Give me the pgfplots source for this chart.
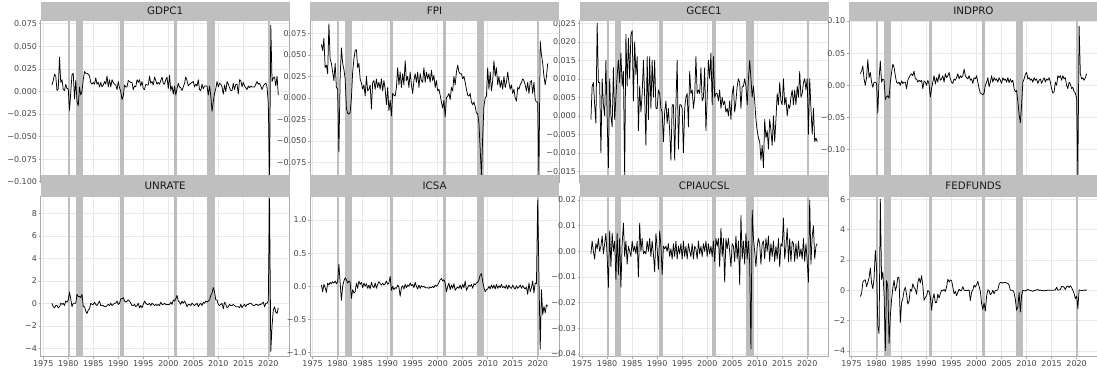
\documentclass[border=0pt]{standalone}
\usepackage{fontspec}
\setmainfont{DejaVu Sans}
\usepackage{pgfplots}
\usepackage{pgfplotstable}
\pgfplotsset{compat=1.18}

\definecolor{stripgray}{RGB}{191,191,191}
\definecolor{bandgray}{RGB}{190,190,190}
\definecolor{gridgray}{RGB}{233,233,233}
\definecolor{spinegray}{RGB}{170,170,170}
\definecolor{labelgray}{RGB}{70,70,70}
\definecolor{titlecol}{RGB}{26,26,26}

% quarterly values, 1976Q4 ... 2022Q1 (one row per year)
\pgfplotstableread[header=false,row sep=\\]{
0.007\\
0.012\\0.019\\0.017\\0.001\\
0.003\\0.038\\0.010\\0.013\\
0.002\\0.001\\0.008\\0.003\\
0.003\\-0.021\\-0.001\\0.019\\
0.020\\-0.008\\0.012\\-0.011\\
-0.016\\0.005\\-0.004\\0.000\\
0.013\\0.022\\0.020\\0.020\\
0.019\\0.017\\0.010\\0.008\\
0.010\\0.008\\0.015\\0.008\\
0.010\\0.005\\0.010\\0.005\\
0.007\\0.011\\0.008\\0.017\\
0.005\\0.013\\0.005\\0.013\\
0.010\\0.008\\0.007\\0.002\\
0.011\\0.004\\0.000\\-0.009\\
-0.005\\0.007\\0.005\\0.005\\
0.012\\0.011\\0.010\\0.010\\
0.002\\0.006\\0.005\\0.013\\
0.010\\0.013\\0.006\\0.011\\
0.003\\0.002\\0.008\\0.007\\
0.007\\0.017\\0.009\\0.011\\
0.007\\0.016\\0.012\\0.008\\
0.010\\0.008\\0.012\\0.016\\
0.009\\0.008\\0.013\\0.016\\
0.003\\0.018\\0.001\\0.006\\
-0.003\\0.006\\-0.004\\0.003\\
0.009\\0.005\\0.004\\0.001\\
0.005\\0.009\\0.016\\0.012\\
0.006\\0.008\\0.009\\0.010\\
0.011\\0.005\\0.008\\0.006\\
0.013\\0.002\\0.001\\0.008\\
0.003\\0.006\\0.006\\0.006\\
-0.004\\0.006\\-0.005\\-0.022\\
-0.011\\-0.002\\0.003\\0.011\\
0.005\\0.009\\0.008\\0.005\\
-0.003\\0.007\\0.000\\0.011\\
0.008\\0.004\\0.001\\0.001\\
0.009\\0.002\\0.008\\0.008\\
-0.003\\0.013\\0.012\\0.005\\
0.010\\0.006\\0.004\\0.002\\
0.006\\0.004\\0.006\\0.005\\
0.005\\0.005\\0.008\\0.011\\
0.008\\0.009\\0.006\\0.002\\
0.006\\0.008\\0.009\\0.005\\
-0.014\\-0.094\\0.073\\0.011\\
0.015\\0.016\\0.006\\0.017\\
-0.004\\
}\tGDPC

\pgfplotstableread[header=false,row sep=\\]{
0.062\\
0.055\\0.069\\0.035\\0.038\\
0.028\\0.086\\0.045\\0.040\\
0.030\\0.020\\0.040\\0.012\\
0.010\\-0.063\\0.025\\0.058\\
0.040\\0.033\\0.022\\-0.012\\
-0.018\\-0.019\\-0.017\\0.000\\
0.030\\0.045\\0.055\\0.056\\
0.035\\0.040\\0.022\\0.017\\
0.010\\0.015\\0.002\\0.025\\
0.008\\0.010\\0.015\\-0.013\\
0.018\\0.020\\0.010\\0.022\\
0.012\\0.018\\0.010\\0.022\\
0.008\\0.020\\0.010\\-0.008\\
0.012\\-0.015\\-0.003\\-0.021\\
0.005\\0.003\\0.002\\0.012\\
0.035\\0.015\\0.030\\0.012\\
0.028\\0.015\\0.043\\0.020\\
0.025\\0.012\\0.030\\0.015\\
0.005\\0.020\\0.028\\0.018\\
0.030\\0.012\\0.028\\0.020\\
0.018\\0.035\\0.018\\0.030\\
0.022\\0.028\\0.018\\0.032\\
0.020\\0.026\\0.012\\0.020\\
0.008\\0.010\\0.003\\-0.005\\
-0.012\\-0.003\\-0.022\\0.000\\
0.002\\0.005\\-0.002\\0.012\\
0.008\\0.025\\0.015\\0.030\\
0.038\\0.030\\0.028\\0.028\\
0.022\\0.025\\0.018\\0.010\\
0.003\\0.002\\0.005\\-0.005\\
-0.008\\-0.005\\-0.010\\-0.018\\
-0.018\\-0.030\\-0.060\\-0.090\\
-0.045\\-0.010\\0.000\\0.002\\
0.035\\0.010\\0.030\\0.008\\
0.020\\0.043\\0.025\\0.035\\
0.015\\0.025\\0.012\\0.020\\
0.010\\0.025\\0.012\\0.018\\
0.030\\0.018\\0.010\\0.015\\
0.005\\0.010\\0.000\\-0.004\\
0.012\\0.010\\0.015\\0.018\\
0.022\\0.020\\0.015\\0.008\\
0.018\\0.005\\0.018\\0.020\\
0.005\\0.018\\-0.002\\-0.005\\
-0.005\\-0.090\\0.066\\0.050\\
0.040\\0.025\\0.015\\0.025\\
0.040\\
}\tFPI

\pgfplotstableread[header=false,row sep=\\]{
-0.001\\
0.008\\0.009\\0.003\\-0.002\\
0.025\\0.009\\0.009\\-0.010\\
0.010\\0.003\\0.000\\0.015\\
-0.001\\-0.014\\0.010\\0.000\\
-0.003\\0.013\\-0.001\\0.005\\
0.011\\0.015\\0.009\\0.017\\
0.008\\0.012\\-0.016\\0.022\\
0.008\\0.021\\0.010\\0.022\\
0.023\\0.004\\0.020\\0.011\\
0.016\\-0.004\\0.008\\0.001\\
0.006\\0.015\\0.005\\-0.008\\
0.016\\-0.001\\0.016\\0.002\\
0.015\\0.005\\0.015\\0.002\\
0.002\\0.007\\0.006\\0.002\\
0.001\\-0.007\\0.001\\0.004\\
-0.002\\0.002\\-0.004\\-0.012\\
0.003\\0.003\\-0.012\\0.003\\
0.015\\-0.009\\0.003\\0.003\\
0.002\\-0.010\\0.002\\0.005\\
0.006\\-0.003\\0.012\\0.006\\
0.007\\0.002\\0.005\\0.016\\
0.006\\0.007\\0.006\\0.013\\
0.004\\0.005\\0.013\\-0.004\\
0.005\\0.015\\0.010\\0.017\\
0.003\\0.016\\0.005\\0.006\\
0.006\\0.004\\0.007\\0.002\\
0.005\\0.003\\0.004\\0.001\\
0.002\\0.000\\0.004\\-0.001\\
0.006\\0.008\\0.001\\0.004\\
0.008\\0.010\\0.009\\0.002\\
0.008\\0.008\\0.010\\0.008\\
0.003\\0.010\\0.015\\0.010\\
0.005\\0.008\\0.004\\-0.001\\
-0.004\\-0.006\\-0.007\\-0.012\\
-0.008\\-0.014\\-0.001\\-0.006\\
-0.004\\-0.009\\-0.001\\-0.004\\
-0.008\\0.000\\-0.007\\-0.001\\
0.006\\0.003\\0.009\\0.004\\
0.003\\0.010\\0.003\\0.005\\
0.000\\0.003\\0.002\\0.005\\
0.007\\0.003\\0.007\\0.003\\
0.008\\0.005\\0.012\\0.005\\
0.006\\0.009\\0.010\\0.007\\
0.010\\-0.005\\0.010\\0.002\\
-0.005\\0.002\\-0.007\\-0.006\\
-0.007\\
}\tGCEC

\pgfplotstableread[header=false,row sep=\\]{
0.018\\
0.022\\0.030\\0.010\\0.000\\
0.012\\0.040\\0.012\\0.020\\
0.005\\-0.003\\0.005\\0.005\\
0.003\\-0.043\\0.010\\0.038\\
0.005\\0.010\\0.008\\-0.022\\
-0.018\\-0.016\\-0.020\\0.005\\
0.020\\0.033\\0.028\\0.015\\
0.005\\0.003\\0.005\\0.000\\
0.007\\0.003\\0.005\\0.005\\
-0.005\\0.008\\0.012\\0.016\\
0.018\\0.015\\0.022\\0.010\\
0.010\\0.005\\0.008\\0.006\\
0.008\\-0.005\\0.007\\0.005\\
0.000\\0.008\\0.002\\-0.018\\
-0.005\\0.005\\0.015\\0.002\\
0.012\\0.005\\0.018\\0.008\\
0.010\\0.015\\0.005\\0.018\\
0.012\\0.015\\0.020\\0.010\\
0.005\\0.003\\0.010\\0.008\\
0.012\\0.018\\0.010\\0.015\\
0.012\\0.015\\0.025\\0.015\\
0.012\\0.010\\0.015\\0.008\\
0.010\\0.003\\0.012\\0.010\\
0.015\\0.005\\-0.005\\-0.012\\
-0.013\\-0.015\\-0.012\\0.000\\
0.005\\0.012\\-0.002\\0.005\\
0.015\\0.005\\0.012\\0.008\\
0.010\\0.005\\0.012\\0.008\\
0.003\\0.012\\0.008\\0.010\\
0.005\\0.012\\0.004\\0.010\\
0.005\\0.008\\-0.005\\-0.010\\
-0.008\\-0.025\\-0.045\\-0.058\\
-0.030\\0.005\\0.010\\0.017\\
0.020\\0.010\\0.012\\0.008\\
0.010\\0.005\\0.012\\0.008\\
0.010\\0.003\\0.008\\0.010\\
0.003\\0.008\\0.012\\0.005\\
0.010\\0.008\\0.012\\0.005\\
-0.005\\-0.012\\-0.010\\0.005\\
0.000\\0.015\\0.012\\0.015\\
0.008\\0.015\\0.010\\0.012\\
0.000\\-0.005\\0.005\\0.002\\
-0.005\\-0.003\\-0.010\\-0.012\\
-0.020\\-0.140\\0.092\\0.018\\
0.010\\0.012\\0.008\\0.012\\
0.018\\
}\tINDPRO

\pgfplotstableread[header=false,row sep=\\]{
0.0\\
-0.3\\-0.4\\-0.2\\-0.2\\
-0.4\\-0.3\\0.0\\-0.1\\
0.0\\-0.2\\0.2\\0.1\\
0.3\\1.0\\0.4\\-0.3\\
0.0\\0.0\\0.0\\0.8\\
0.6\\0.6\\0.5\\0.8\\
-0.3\\-0.3\\-0.7\\-0.9\\
-0.6\\-0.5\\0.0\\-0.1\\
-0.1\\0.1\\-0.1\\-0.2\\
0.0\\0.2\\-0.2\\-0.2\\
-0.2\\-0.3\\-0.3\\-0.2\\
-0.1\\-0.2\\0.0\\-0.2\\
-0.1\\0.0\\0.0\\0.2\\
-0.1\\0.0\\0.4\\0.4\\
0.5\\0.2\\0.1\\0.2\\
0.3\\0.2\\0.0\\-0.2\\
-0.2\\-0.1\\-0.3\\-0.2\\
0.0\\-0.4\\-0.2\\-0.4\\
-0.1\\0.2\\0.0\\-0.1\\
-0.1\\0.0\\-0.2\\0.0\\
-0.1\\-0.2\\-0.1\\-0.2\\
-0.1\\-0.2\\0.1\\-0.1\\
-0.1\\0.0\\-0.1\\-0.1\\
-0.1\\-0.1\\0.1\\-0.1\\
0.3\\0.2\\0.4\\0.7\\
0.2\\0.1\\-0.1\\0.2\\
0.0\\0.2\\0.0\\-0.3\\
-0.1\\-0.1\\-0.2\\0.0\\
-0.1\\-0.2\\-0.1\\0.0\\
-0.3\\-0.1\\0.0\\-0.2\\
0.1\\0.0\\0.2\\0.1\\
0.2\\0.3\\0.7\\0.9\\
1.4\\1.0\\0.3\\0.3\\
-0.1\\-0.2\\-0.1\\0.0\\
-0.5\\0.1\\-0.1\\-0.4\\
-0.3\\-0.1\\-0.2\\-0.2\\
-0.1\\-0.2\\-0.3\\-0.3\\
-0.3\\-0.4\\-0.1\\-0.4\\
-0.2\\-0.1\\-0.3\\-0.1\\
-0.1\\0.0\\0.0\\-0.1\\
-0.2\\-0.2\\-0.1\\-0.1\\
-0.2\\-0.1\\-0.1\\0.0\\
0.1\\-0.3\\0.0\\0.0\\
0.2\\9.3\\-4.3\\-2.0\\
-0.6\\-0.3\\-0.8\\-0.9\\
-0.4\\
}\tUNRATE

\pgfplotstableread[header=false,row sep=\\]{
0.02\\
-0.08\\0.03\\-0.02\\-0.09\\
0.05\\0.02\\0.06\\0.04\\
0.07\\0.05\\0.08\\0.04\\
0.07\\0.33\\0.05\\-0.21\\
0.00\\0.08\\0.13\\0.10\\
0.05\\0.08\\0.06\\-0.18\\
-0.05\\-0.10\\-0.08\\0.05\\
-0.03\\0.08\\0.03\\0.06\\
-0.02\\0.05\\0.00\\0.04\\
-0.03\\0.02\\-0.04\\0.06\\
0.00\\-0.02\\0.05\\-0.03\\
0.03\\0.07\\0.04\\0.02\\
0.05\\0.02\\0.04\\0.08\\
0.03\\0.05\\0.15\\-0.06\\
0.00\\-0.05\\-0.02\\-0.03\\
0.02\\-0.01\\-0.15\\-0.02\\
0.01\\-0.04\\0.03\\-0.02\\
0.02\\0.00\\0.05\\0.01\\
0.03\\-0.02\\0.06\\0.00\\
-0.04\\0.02\\-0.03\\0.01\\
-0.01\\0.00\\-0.02\\-0.02\\
-0.02\\-0.03\\-0.01\\-0.02\\
0.00\\-0.02\\0.02\\0.00\\
0.02\\0.06\\0.10\\0.12\\
0.08\\0.10\\0.05\\-0.08\\
0.00\\0.05\\-0.05\\0.02\\
-0.03\\0.04\\-0.06\\-0.03\\
-0.01\\-0.03\\0.02\\-0.04\\
0.03\\-0.02\\0.08\\-0.06\\
-0.02\\0.02\\0.00\\0.03\\
-0.03\\0.04\\0.02\\0.05\\
0.06\\0.10\\0.17\\0.19\\
0.07\\-0.02\\-0.08\\-0.05\\
-0.04\\0.00\\-0.04\\0.02\\
-0.03\\0.02\\-0.04\\0.03\\
-0.03\\0.01\\-0.02\\0.03\\
-0.02\\0.00\\-0.03\\0.02\\
-0.04\\0.02\\-0.02\\-0.03\\
0.02\\-0.02\\-0.04\\0.01\\
-0.03\\-0.01\\0.02\\-0.03\\
0.01\\-0.02\\-0.04\\-0.01\\
-0.12\\0.05\\-0.08\\-0.02\\
0.08\\-0.10\\0.05\\0.04\\
1.30\\0.15\\-0.95\\-0.05\\
-0.43\\-0.30\\-0.40\\-0.28\\
-0.30\\
}\tICSA

\pgfplotstableread[header=false,row sep=\\]{
-0.001\\
0.004\\0.000\\-0.003\\0.003\\
0.001\\0.005\\0.000\\0.002\\
0.006\\-0.001\\0.003\\0.007\\
-0.002\\-0.014\\0.008\\-0.006\\
0.007\\0.000\\0.004\\-0.011\\
0.007\\-0.009\\0.005\\-0.014\\
0.003\\0.011\\-0.002\\0.004\\
-0.005\\0.002\\0.000\\-0.002\\
0.004\\0.000\\0.002\\-0.001\\
0.004\\-0.010\\0.011\\0.000\\
0.005\\-0.001\\0.000\\-0.001\\
0.004\\0.000\\0.005\\-0.002\\
0.004\\-0.001\\-0.008\\0.007\\
0.001\\-0.007\\0.008\\0.002\\
-0.009\\0.002\\0.001\\0.002\\
0.000\\0.003\\-0.002\\0.001\\
-0.003\\0.003\\-0.002\\0.004\\
-0.003\\0.002\\-0.001\\0.003\\
-0.003\\0.004\\-0.002\\0.002\\
-0.003\\0.003\\0.000\\-0.002\\
0.003\\-0.003\\0.002\\0.001\\
-0.003\\0.004\\-0.001\\0.002\\
-0.002\\0.003\\0.000\\0.004\\
-0.002\\0.003\\-0.001\\0.002\\
-0.002\\0.004\\-0.004\\0.005\\
0.002\\0.005\\-0.006\\0.009\\
-0.002\\0.005\\-0.012\\0.005\\
0.001\\0.005\\0.000\\-0.006\\
0.003\\0.002\\-0.004\\0.006\\
-0.003\\0.004\\-0.013\\0.014\\
-0.003\\0.004\\-0.005\\0.007\\
-0.003\\0.004\\-0.005\\-0.038\\
0.016\\0.005\\0.000\\-0.006\\
0.002\\0.005\\0.003\\-0.005\\
0.003\\0.004\\-0.003\\0.005\\
0.000\\0.006\\-0.004\\0.003\\
-0.002\\0.004\\-0.004\\0.002\\
-0.003\\0.005\\-0.006\\0.003\\
0.002\\0.013\\-0.003\\0.002\\
0.009\\-0.004\\0.005\\-0.004\\
0.004\\0.003\\-0.004\\0.003\\
-0.003\\0.004\\-0.002\\0.001\\
-0.003\\0.005\\-0.004\\0.003\\
-0.004\\-0.012\\0.020\\-0.005\\
0.006\\0.010\\-0.003\\0.002\\
0.003\\
}\tCPI

\pgfplotstableread[header=false,row sep=\\]{
-0.41\\
-0.21\\0.50\\0.66\\0.69\\
0.25\\0.52\\0.82\\1.48\\
0.49\\0.11\\0.77\\2.63\\
1.47\\-2.36\\-2.85\\6.01\\
0.72\\1.21\\-0.20\\-3.99\\
0.64\\0.28\\-3.50\\-1.72\\
-0.64\\0.15\\0.66\\-0.03\\
0.26\\0.87\\0.83\\-2.12\\
-0.79\\-0.56\\-0.02\\0.20\\
-0.27\\-0.91\\-0.71\\0.06\\
-0.05\\0.43\\0.19\\0.08\\
-0.26\\0.50\\0.82\\0.49\\
0.97\\0.29\\-0.65\\-0.47\\
-0.36\\-0.01\\-0.08\\-0.42\\
-1.31\\-0.57\\-0.22\\-0.82\\
-0.80\\-0.25\\-0.51\\-0.22\\
0.00\\-0.04\\0.06\\-0.07\\
0.22\\0.73\\0.55\\0.68\\
0.64\\0.21\\-0.22\\-0.08\\
-0.36\\-0.12\\0.07\\-0.03\\
0.00\\0.24\\0.01\\-0.02\\
0.01\\-0.02\\0.03\\-0.67\\
-0.13\\0.02\\0.34\\0.22\\
0.37\\0.59\\0.25\\-0.05\\
-0.88\\-1.26\\-0.83\\-1.37\\
-0.40\\0.02\\-0.01\\-0.30\\
-0.19\\0.00\\-0.23\\-0.02\\
0.00\\0.03\\0.40\\0.52\\
0.52\\0.47\\0.52\\0.52\\
0.48\\0.45\\0.34\\0.00\\
0.01\\-0.01\\-0.18\\-0.57\\
-1.32\\-1.09\\-0.15\\-1.43\\
-0.33\\0.00\\-0.02\\-0.04\\
0.01\\0.06\\0.00\\0.00\\
-0.03\\-0.07\\-0.01\\-0.01\\
0.03\\0.05\\-0.01\\0.02\\
-0.02\\-0.02\\-0.04\\0.01\\
-0.02\\0.02\\0.00\\0.01\\
0.01\\0.01\\0.01\\0.03\\
0.20\\0.01\\0.02\\0.06\\
0.25\\0.25\\0.20\\0.05\\
0.25\\0.29\\0.18\\0.30\\
0.18\\0.00\\-0.21\\-0.55\\
-0.38\\-1.20\\0.03\\0.00\\
-0.01\\-0.01\\0.02\\-0.01\\
0.04\\
}\tFED

\newcommand{\band}[2]{\fill[bandgray] (axis cs:#1,\pgfkeysvalueof{/pgfplots/ymin}) rectangle (axis cs:#2,\pgfkeysvalueof{/pgfplots/ymax});}
\newcommand{\recessions}{%
  \band{1979.9}{1980.35}\band{1981.55}{1982.85}\band{1990.4}{1991.1}%
  \band{2001.05}{2001.75}\band{2007.8}{2009.3}\band{2019.95}{2020.35}}
\newcommand{\series}[1]{\addplot[black, line width=0.75pt, line join=round] table[x expr=1976.75+0.25*\coordindex, y index=0]{#1};}

\pgfplotsset{
  panel/.style={
    scale only axis, width=248.9pt, anchor=north west,
    xmin=1974.49, xmax=2024.26,
    axis line style={spinegray, line width=0.6pt},
    tick align=outside, tick pos=left, major tick length=2pt,
    tick style={spinegray, line width=0.5pt},
    xtick={1975,1980,1985,1990,1995,2000,2005,2010,2015,2020},
    xmajorgrids, ymajorgrids, grid style={gridgray, line width=0.5pt},
    ticklabel style={font=\fontsize{8}{9}\selectfont, text=labelgray},
    yticklabel style={inner sep=1.5pt},
    xticklabel style={inner sep=2pt},
    axis on top=false, clip=true,
  },
  toprow/.style={panel, height=161.3pt, xticklabels={}},
  botrow/.style={panel, height=160pt,
    xticklabels={1975,1980,1985,1990,1995,2000,2005,2010,2015,2020}},
}

\begin{document}
\begin{tikzpicture}
\path[use as bounding box] (0pt,0pt) rectangle (1097pt,-374pt);

% ---------- top row ----------
\begin{axis}[toprow, at={(40.7pt,-20.7pt)}, ymin=-0.10033, ymax=0.07832,
  ytick={-0.1,-0.075,-0.05,-0.025,0,0.025,0.05,0.075},
  yticklabels={−0.100,−0.075,−0.050,−0.025,0.000,0.025,0.050,0.075}]
\recessions
\series{\tGDPC}
\end{axis}

\begin{axis}[toprow, at={(310.1pt,-20.7pt)}, ymin=-0.09791, ymax=0.08965,
  ytick={-0.075,-0.05,-0.025,0,0.025,0.05,0.075},
  yticklabels={−0.075,−0.050,−0.025,0.000,0.025,0.050,0.075}]
\recessions
\series{\tFPI}
\end{axis}

\begin{axis}[toprow, at={(579.6pt,-20.7pt)}, ymin=-0.01789, ymax=0.0257,
  ytick={-0.015,-0.01,-0.005,0,0.005,0.01,0.015,0.02,0.025},
  yticklabels={−0.015,−0.010,−0.005,0.000,0.005,0.010,0.015,0.020,0.025}]
\recessions
\series{\tGCEC}
\end{axis}

\begin{axis}[toprow, at={(849.0pt,-20.7pt)}, ymin=-0.1502, ymax=0.1005,
  ytick={-0.1,-0.05,0,0.05,0.1},
  yticklabels={−0.10,−0.05,0.00,0.05,0.10}]
\recessions
\series{\tINDPRO}
\end{axis}

% ---------- bottom row ----------
\begin{axis}[botrow, at={(40.7pt,-196.7pt)}, ymin=-4.747, ymax=9.476,
  ytick={-4,-2,0,2,4,6,8},
  yticklabels={−4,−2,0,2,4,6,8}]
\recessions
\series{\tUNRATE}
\end{axis}

\begin{axis}[botrow, at={(310.1pt,-196.7pt)}, ymin=-1.060, ymax=1.351,
  ytick={-1,-0.5,0,0.5,1},
  yticklabels={−1.0,−0.5,0.0,0.5,1.0}]
\recessions
\series{\tICSA}
\end{axis}

\begin{axis}[botrow, at={(579.6pt,-196.7pt)}, ymin=-0.04105, ymax=0.02129,
  ytick={-0.04,-0.03,-0.02,-0.01,0,0.01,0.02},
  yticklabels={−0.04,−0.03,−0.02,−0.01,0.00,0.01,0.02}]
\recessions
\series{\tCPI}
\end{axis}

\begin{axis}[botrow, at={(849.0pt,-196.7pt)}, ymin=-4.376, ymax=6.171,
  ytick={-4,-2,0,2,4,6},
  yticklabels={−4,−2,0,2,4,6}]
\recessions
\series{\tFED}
\end{axis}

% ---------- facet strips ----------
\foreach \xx/\nm in {40.7/GDPC1, 310.1/FPI, 579.6/GCEC1, 849.0/INDPRO}{
  \fill[stripgray] (\xx pt,-1.7pt) rectangle ++(248.9pt,-19pt);
  \node[font=\fontsize{10.3}{12}\selectfont, text=titlecol] at (\xx pt+124.45pt,-11.2pt) {\nm};
}
\foreach \xx/\nm in {40.7/UNRATE, 310.1/ICSA, 579.6/CPIAUCSL, 849.0/FEDFUNDS}{
  \fill[stripgray] (\xx pt,-175pt) rectangle ++(248.9pt,-21.7pt);
  \node[font=\fontsize{10.3}{12}\selectfont, text=titlecol] at (\xx pt+124.45pt,-185.85pt) {\nm};
}
\end{tikzpicture}
\end{document}
